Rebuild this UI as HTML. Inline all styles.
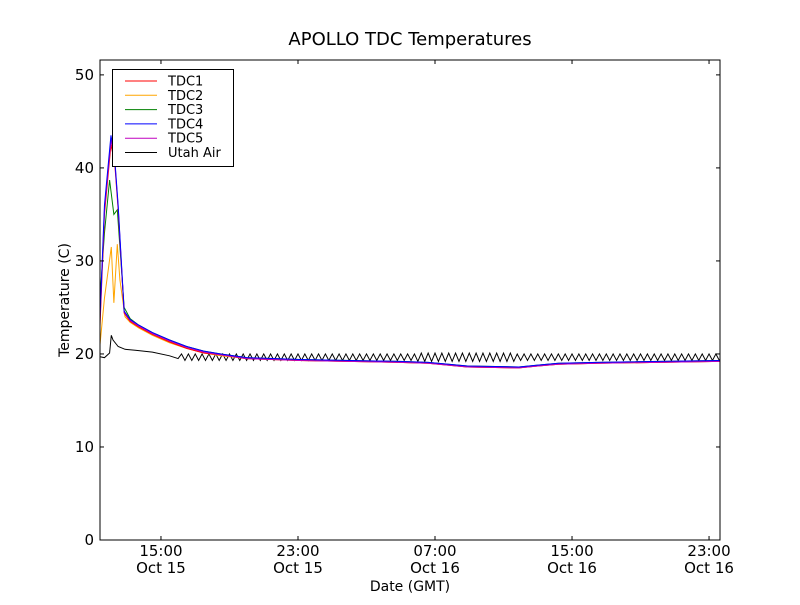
<!DOCTYPE html>
<html><head><meta charset="utf-8"><style>
body{margin:0;background:#fff}
svg{font-family:"DejaVu Sans","Liberation Sans",sans-serif}
</style></head><body>
<svg id="c" width="800" height="600"></svg>
<script>
// hours since Oct 15 00:00 GMT
const tdc4Hours=[11.44,11.7,12.08,12.3,12.5,12.85,13.2,13.7,14.5,15.5,16.5,17.5,18.5,20.0,23.1,28.9,30.6,32.9,35.9,37.0,38.2,40.5,47.64];
const tdc4Vals=[24,36,43.5,41,36,24.6,23.7,23.1,22.3,21.5,20.8,20.3,20.0,19.6,19.4,19.2,19.1,18.7,18.6,18.8,19.0,19.1,19.3];
const tdc1Vals=[23,35,42.5,40.5,35.5,24.4,23.5,22.9,22.1,21.3,20.6,20.1,19.9,19.5,19.3,19.1,19.0,18.6,18.5,18.7,18.9,19.0,19.2];
const tdc5Vals=[23.5,35.5,43,40.8,35.8,24.5,23.6,23.0,22.2,21.4,20.7,20.2,19.9,19.5,19.3,19.1,19.0,18.6,18.5,18.7,18.9,19.0,19.2];
const tdc3Hours=[11.44,11.7,12.0,12.25,12.45,12.85,13.2,13.7,14.5,15.5,16.5,17.5,18.5,20.0,23.1,28.9,30.6,32.9,35.9,37.0,38.2,40.5,47.64];
const tdc3Vals=[26,33,38.7,35,35.5,25,23.8,23.1,22.3,21.5,20.8,20.3,20.0,19.6,19.4,19.2,19.1,18.7,18.6,18.8,19.0,19.1,19.3];
const tdc2Hours=[11.44,11.7,12.1,12.25,12.45,12.6,12.9,13.2,13.7,14.5,15.5,16.5,17.5,18.5,20.0,23.1,28.9,30.6,32.9,35.9,37.0,38.2,40.5,47.64];
const tdc2Vals=[21,26,31.5,25.5,31.8,28,24,23.4,22.8,22.0,21.2,20.6,20.1,19.8,19.5,19.3,19.1,19.0,18.6,18.5,18.7,18.9,19.0,19.2];
const airHeadHours=[11.44,11.7,12.0,12.1,12.2,12.5,12.9,13.5,14.5,15.5,16.0];
const airHeadVals=[19.7,19.6,20.1,22.0,21.5,20.8,20.5,20.4,20.2,19.8,19.5];
const airStart=16.2, airStep=0.2;
const airTail=[20.0,19.3,20.0,19.3,20.0,19.3,20.0,19.3,20.0,19.3,20.0,19.3,20.0,19.3,20.0,19.3,20.0,19.3,20.0,19.3,
20.0,19.3,20.0,19.3,20.0,19.3,20.0,19.3,20.0,19.3,20.0,19.3,20.0,19.3,20.0,19.3,20.0,19.3,20.0,19.3,
20.0,19.3,20.0,19.3,20.0,19.3,20.0,19.3,20.0,19.3,20.0,19.3,20.0,19.3,20.0,19.3,20.0,19.3,20.0,19.3,
20.0,19.3,20.0,19.3,20.0,19.3,20.0,19.3,20.0,19.2,20.1,19.2,20.1,19.2,20.1,19.2,20.1,19.2,20.1,19.2,
20.1,19.2,20.1,19.2,20.1,19.2,20.1,19.2,20.1,19.2,20.1,19.2,20.1,19.2,20.1,19.2,20.1,19.2,20.0,19.3,
20.0,19.3,20.0,19.3,20.0,19.3,20.0,19.3,20.0,19.3,20.0,19.3,20.0,19.3,20.0,19.3,20.0,19.3,20.0,19.3,
20.0,19.3,20.0,19.3,20.0,19.3,20.0,19.3,20.0,19.3,20.0,19.3,20.0,19.3,20.0,19.3,20.0,19.3,20.0,19.3,
20.0,19.3,20.0,19.3,20.0,19.3,20.0,19.3,20.0,19.3,20.0,19.3,20.0,19.3,20.0,19.3,20.0,19.3,20.0,19.3];
const yTicks=[0,10,20,30,40,50];
const xTickHours=[15,23,31,39,47];
const xTickTimes=["15:00","23:00","07:00","15:00","23:00"];
const xTickDays=["Oct 15","Oct 15","Oct 16","Oct 16","Oct 16"];
const legendLabels=["TDC1","TDC2","TDC3","TDC4","TDC5","Utah Air"];
const legendColors=["#ff0000","#ffa500","#008000","#0000ff","#bf00bf","#000000"];

const L=100,R=720,T=60,B=540,H0=11.44,H1=47.64,Y0=0,Y1=51.6;
const xs=h=>L+(h-H0)/(H1-H0)*(R-L);
const ys=v=>B-(v-Y0)/(Y1-Y0)*(B-T);
const svg=document.getElementById('c');
const NS='http://www.w3.org/2000/svg';
function mk(t,a,p){const e=document.createElementNS(NS,t);for(const k in a)e.setAttribute(k,a[k]);(p||svg).appendChild(e);return e;}
function txt(s,x,y,size,anchor){const e=mk('text',{x:x,y:y,'font-size':size,'text-anchor':anchor||'middle',fill:'#000'});e.textContent=s;return e;}

const clip=mk('clipPath',{id:'pc'});mk('rect',{x:L,y:T,width:R-L,height:B-T},clip);
const g=mk('g',{'clip-path':'url(#pc)'});


function line(hs,vs,color,name){
 const d=hs.map((h,i)=>(i?'L':'M')+xs(h).toFixed(2)+' '+ys(vs[i]).toFixed(2)).join(' ');
 const p=mk('path',{d:d,fill:'none',stroke:color,'stroke-width':1},g);
 
 
}
const airHours=airHeadHours.concat(airTail.map((v,i)=>airStart+i*airStep));
const airVals=airHeadVals.concat(airTail);
line(airHours,airVals,'#000','utah-air-line');
line(tdc2Hours,tdc2Vals,'#ffa500','tdc2-line');
line(tdc3Hours,tdc3Vals,'#008000','tdc3-line');
line(tdc4Hours,tdc1Vals,'#ff0000','tdc1-line');
line(tdc4Hours,tdc5Vals,'#bf00bf','tdc5-line');
line(tdc4Hours,tdc4Vals,'#0000ff','tdc4-line');

const frame=mk('rect',{x:L,y:T,width:R-L,height:B-T,fill:'none',stroke:'#000','stroke-width':1});



yTicks.forEach(v=>{const y=ys(v);
 mk('line',{x1:L,x2:L+4,y1:y,y2:y,stroke:'#000'});mk('line',{x1:R,x2:R-4,y1:y,y2:y,stroke:'#000'});
 const t=txt(String(v),L-6,y+5,15,'end');
 
 
});
xTickHours.forEach((h,i)=>{const x=xs(h);
 mk('line',{x1:x,x2:x,y1:B,y2:B-4,stroke:'#000'});mk('line',{x1:x,x2:x,y1:T,y2:T+4,stroke:'#000'});
 const t1=txt(xTickTimes[i],x,556,15);
 
 
 const t2=txt(xTickDays[i],x,573,15);
 
 
});
const ti=txt('APOLLO TDC Temperatures',410,45,18);


const xt=txt('Date (GMT)',410,591,14);


const yt=txt('Temperature (C)',0,0,14);
yt.setAttribute('transform','translate(69,300) rotate(-90)');



const lg=mk('g',{});


mk('rect',{x:112.5,y:69.5,width:121,height:97,fill:'#fff',stroke:'#000','stroke-width':1},lg);
legendLabels.forEach((s,i)=>{const y=81+i*14.3;
 const ln=mk('line',{x1:125,x2:157,y1:y,y2:y,stroke:legendColors[i],'stroke-width':1},lg);
 
 
 const t=mk('text',{x:168,y:y+4.5,'font-size':13,fill:'#000'},lg);t.textContent=s;
 
 
});
</script>
</body></html>
